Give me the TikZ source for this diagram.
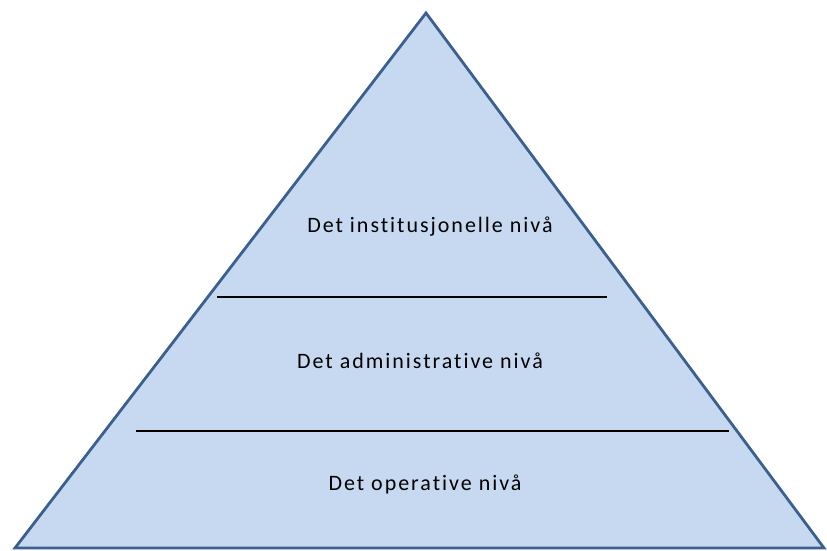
\documentclass[tikz,border=0pt]{standalone}
\usepackage{fontspec}
\setmainfont{Carlito}[LetterSpace=9,Ligatures=NoCommon]
\usepackage{xcolor}
\usetikzlibrary{positioning,calc}

\definecolor{pyrfill}{HTML}{C6D9F1}
\definecolor{pyredge}{HTML}{3B5F8F}

\tikzset{
    level/.style={font=\fontsize{22}{24}\selectfont, text=black, inner sep=0pt},
    divider/.style={black, line width=2.2pt}
}

\begin{document}
\begin{tikzpicture}[x=1pt, y=-1pt]
    \useasboundingbox (0,0) rectangle (827,551);
    % Pyramid
    \coordinate (top) at (426,13);
    \coordinate (bl) at (15,548);
    \coordinate (br) at (824,548);
    \draw[fill=pyrfill, draw=pyredge, line width=2.8pt, line join=miter] (top) -- (bl) -- (br) -- cycle;

    % Dividers
    \coordinate (d1l) at (217,297);
    \coordinate (d1r) at (607,297);
    \coordinate (d2l) at (136,431);
    \coordinate (d2r) at (729,431);
    \draw[divider] (d1l) -- (d1r);
    \draw[divider] (d2l) -- (d2r);

    % Levels
    \node[level] (inst) at (430,227) {Det institusjonelle nivå};
    \node[level] (adm) at (420,361) {Det administrative nivå};
    \node[level] (oper) at (425,484) {Det operative nivå};
\end{tikzpicture}
\end{document}
